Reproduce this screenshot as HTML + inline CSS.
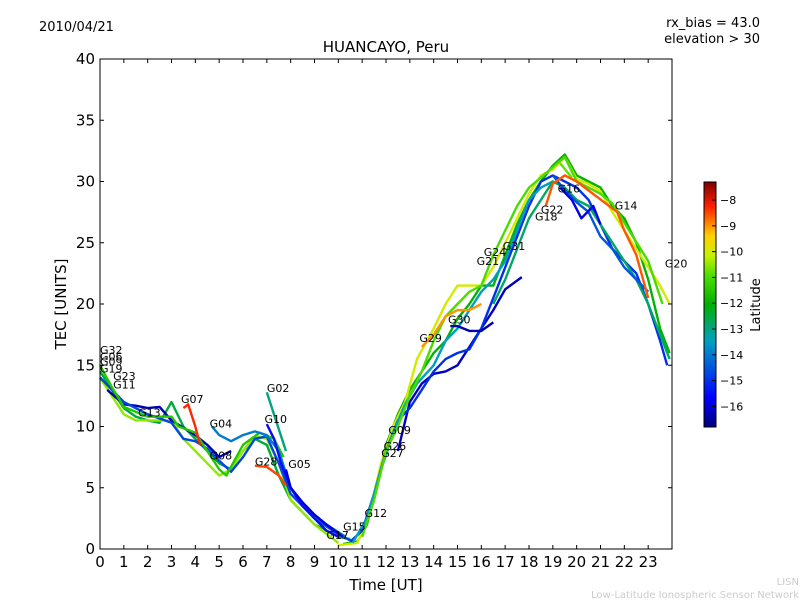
<!DOCTYPE html>
<html><head><meta charset="utf-8"><style>
body{margin:0;background:#fff;width:800px;height:600px;overflow:hidden}
svg text{font-family:"DejaVu Sans","Liberation Sans",sans-serif}
</style></head><body>
<svg id="c" width="800" height="600" xmlns="http://www.w3.org/2000/svg">
<text x="39" y="31" font-size="13">2010/04/21</text>
<text x="760" y="27" font-size="13" text-anchor="end">rx_bias = 43.0</text>
<text x="760" y="43" font-size="13" text-anchor="end">elevation &gt; 30</text>
<text x="386" y="52" font-size="15" text-anchor="middle">HUANCAYO, Peru</text>
<text x="386" y="590" font-size="15" text-anchor="middle">Time [UT]</text>
<text x="66" y="304" font-size="15" text-anchor="middle" transform="rotate(-90 66 304)">TEC [UNITS]</text>
<text x="799" y="585" font-size="10" fill="#ccc" text-anchor="end">LISN</text>
<text x="799" y="598" font-size="10" fill="#ccc" text-anchor="end">Low-Latitude Ionospheric Sensor Network</text>
<defs><linearGradient id="jet" x1="0" y1="1" x2="0" y2="0">
<stop offset="0" stop-color="#00007f"/><stop offset="0.12" stop-color="#0000ff"/><stop offset="0.35" stop-color="#00a0c0"/><stop offset="0.5" stop-color="#00b000"/><stop offset="0.62" stop-color="#50e000"/><stop offset="0.7" stop-color="#c8f000"/><stop offset="0.78" stop-color="#ffd000"/><stop offset="0.9" stop-color="#ff2000"/><stop offset="1" stop-color="#7f0000"/></linearGradient></defs>
<g id="plot"></g>
<g id="cb"></g>
</svg>
<script>
const xTicks=[0,1,2,3,4,5,6,7,8,9,10,11,12,13,14,15,16,17,18,19,20,21,22,23];
const yTicks=[0,5,10,15,20,25,30,35,40];
const cbTicks=[-8,-9,-10,-11,-12,-13,-14,-15,-16];
const trackLat=[-12.5,-10.5,-16.3,-14.7,-11.5,-14,-15.5,-13,-16,-8.5,-8.3,-12,-10,-16.2,-15,-13.5,-11,-9,-16.4,-12.8,-14.5,-10.8,-15.8,-8.6];
const trackPts=[
[[0,14.5],[0.5,13],[1,11.5],[1.5,10.8],[2,10.5],[2.5,10.3],[3,12],[3.5,10],[4,9],[4.5,8],[5,7],[5.5,6.5],[6,8],[6.5,9],[7,8.5],[7.5,6],[8,4],[8.5,3],[9,2],[9.5,1.5],[10,1],[10.5,0.8]],
[[0,14],[0.5,12.5],[1,11],[1.5,10.5],[2,10.5],[3,10.5],[3.5,9],[4,8],[4.5,7],[5,6],[5.5,6.5],[6,8],[6.5,9.2],[7,9],[7.5,7],[8,4],[9,2],[10,0.5]],
[[0.3,13],[1,11.8],[1.5,11.7],[2,11.5],[2.5,11.6],[3,10.5],[4,9.3],[4.5,8.5],[5,7.5],[5.5,8]],
[[0,14],[1,12],[2,11],[3,10.3],[3.5,9],[4,8.8],[4.5,8.2],[5,7.2],[5.5,6.3],[6,7.5],[6.5,9],[7,9.2],[7.5,7],[8,4.5],[9,2.5],[10,1.2],[10.5,0.7]],
[[0,15],[0.5,13.2],[1,11.6],[2,10.8],[3,10.8],[3.3,10],[4,9.5],[5,6.5],[5.3,6],[6,8.5],[6.7,9.5],[7.3,9],[7.7,7.5]],
[[4.7,10],[5,9.3],[5.5,8.8],[6,9.3],[6.5,9.6],[7,9.3],[7.5,8],[8,5],[8.5,3.5],[9.5,2],[10.3,1]],
[[7,10.2],[7.3,9],[7.6,7],[8,5],[8.5,3.5],[9,2.5],[9.5,1.5],[10,1]],
[[7,12.8],[7.8,8]],
[[7.8,6.5],[8,5],[8.5,3.8],[9,2.8],[9.5,2],[10.2,1]],
[[6.5,6.8],[7,6.7],[7.5,6],[7.8,5.2]],
[[3.5,11.5],[3.7,11.8],[4,10],[4.2,8.5]],
[[10.2,0.4],[10.8,0.6],[11.2,2],[11.6,5],[12,8.5],[12.5,11],[13,13],[13.5,14.5],[14,16],[14.5,17],[15,18.8],[15.5,20],[16,21.5],[16.5,21.5],[17,24],[17.5,26.5],[18,28.5],[18.5,30],[19,31.3],[19.5,32.2],[20,30.5],[20.5,30],[21,29.5],[21.5,28],[22,27],[22.5,25],[23,22],[23.5,18],[23.9,16]],
[[10,0.3],[10.8,0.5],[11.3,3],[11.8,7],[12.3,10],[12.8,12],[13.3,15.5],[14,18],[14.5,20],[15,21.5],[15.5,21.5],[16,21.5],[16.5,23],[17,25],[17.5,27],[18,29],[18.5,30.5],[19,31],[19.5,32],[20,30.2],[20.5,29.8],[21,29.2],[21.5,27.5],[22,26],[22.5,24.5],[23,23],[23.5,21.5],[23.9,20]],
[[12.5,8],[13,12],[13.5,13.5],[14,14.3],[14.5,14.5],[15,15],[15.5,16.5],[16,18],[16.5,19.5],[17,21.2],[17.7,22.2]],
[[10.5,0.6],[11,1.5],[11.5,4.5],[12,8],[12.5,10.5],[13,11.5],[13.5,13],[14,14.5],[14.5,15.5],[15,16],[15.5,16.3],[16,18],[16.5,20.5],[17,23],[17.5,25.5],[18,28],[18.5,30],[19,30.5],[19.5,30],[20,29.5],[20.5,28.5],[21,26.5],[21.5,24.5],[22,23.5],[22.5,22.5],[23,20],[23.5,17],[23.8,15]],
[[10.6,0.5],[11.2,2.5],[11.8,6.5],[12.3,9.5],[12.8,11.8],[13.3,13.5],[14,15],[14.5,17],[15,18],[15.5,19.5],[16,21],[16.5,22],[17,23.5],[17.5,26],[18,28.5],[18.5,29.5],[19,30]],
[[11,1],[11.5,4],[12,8],[12.5,10],[13,12.5],[13.5,14.5],[14,17],[14.5,19],[15,20],[15.5,21],[16,21.5],[16.5,24],[17,26],[17.5,28],[18,29.5],[19.5,32],[20,30],[21,29],[21.5,28.2],[22.2,26],[23,23.5],[23.6,20]],
[[13.5,16.5],[14,17.5],[14.5,19],[15,19.5],[15.5,19.5],[16,20]],
[[14.7,18.2],[15,18.2],[15.5,17.8],[16,17.8],[16.5,18.5]],
[[16.5,20],[17,22],[17.5,24.5],[18,27],[18.5,28.5],[19,30],[19.5,29.5],[20,28.5],[20.5,28],[21,26.5],[21.5,25],[22,23.5],[22.5,22],[23,20],[23.5,17.5],[23.9,15.5]],
[[19,30.5],[19.5,29.3],[20,28.3],[20.5,27.5],[21,25.5],[21.5,24.5],[22,23],[22.5,22],[23,21]],
[[19.3,31.5],[19.8,30.3]],
[[19.3,29.5],[19.8,28.5],[20.2,27],[20.7,28],[21,26.5]],
[[18.7,28],[19,29.8],[19.5,30.5],[20,30],[21.7,27.5],[22,26],[22.5,24],[23,20.5]]
];
const labelNames=["G32","G06","G09","G19","G23","G11","G13","G07","G04","G08","G02","G10","G28","G05","G17","G15","G12","G09","G26","G27","G29","G30","G21","G24","G31","G22","G18","G16","G14","G20"];
const labelT=[0,0,0,0,0.55,0.55,1.6,3.4,4.6,4.6,7,6.9,6.5,7.9,9.5,10.2,11.1,12.1,11.9,11.8,13.4,14.6,15.8,16.1,16.9,18.5,18.25,19.2,21.6,23.7];
const labelV=[15.9,15.4,15,14.4,13.8,13.1,10.8,11.9,9.9,7.3,12.8,10.3,6.8,6.6,0.8,1.5,2.6,9.4,8.1,7.5,16.9,18.4,23.2,23.9,24.4,27.4,26.8,29.1,27.7,23];
const X0=100,X1=672,Y0=549,Y1=59;
const xs=t=>X0+t*(X1-X0)/24, ys=v=>Y0-v*(Y0-Y1)/40;
const latMin=-16.8,latMax=-7.3;
const stops=[[0,[0,0,127]],[0.12,[0,0,255]],[0.35,[0,160,192]],[0.5,[0,176,0]],[0.62,[80,224,0]],[0.7,[200,240,0]],[0.78,[255,208,0]],[0.9,[255,32,0]],[1,[127,0,0]]];
function jet(l){const f=Math.max(0,Math.min(1,(l-latMin)/(latMax-latMin)));for(let i=1;i<stops.length;i++){if(f<=stops[i][0]){const a=stops[i-1],b=stops[i],u=(f-a[0])/(b[0]-a[0]);return 'rgb('+a[1].map((c,k)=>Math.round(c+(b[1][k]-c)*u)).join(',')+')';}}return 'rgb(127,0,0)';}
const NS="http://www.w3.org/2000/svg";
const plot=document.getElementById('plot'),cb=document.getElementById('cb');
function mk(tag,at,par){const e=document.createElementNS(NS,tag);for(const k in at)e.setAttribute(k,at[k]);par.appendChild(e);return e;}
trackPts.forEach((pts,i)=>{
 const p=mk('polyline',{points:pts.map(q=>xs(q[0]).toFixed(1)+','+ys(q[1]).toFixed(1)).join(' '),fill:'none',stroke:jet(trackLat[i]),'stroke-width':2.4,'stroke-linejoin':'round'},plot);
 
 
});
labelNames.forEach((n,i)=>{
 const t=mk('text',{x:xs(labelT[i]),y:ys(labelV[i]),'font-size':11},plot);t.textContent=n;
 
 
});
const fr=mk('rect',{x:X0,y:Y1,width:X1-X0,height:Y0-Y1,fill:'none',stroke:'#000','stroke-width':1},plot);


xTicks.forEach(t=>{const x=xs(t);mk('line',{x1:x,x2:x,y1:Y0,y2:Y0-4,stroke:'#000'},plot);mk('line',{x1:x,x2:x,y1:Y1,y2:Y1+4,stroke:'#000'},plot);
 const e=mk('text',{x:x,y:Y0+18,'font-size':15,'text-anchor':'middle'},plot);e.textContent=t;
 
 });
yTicks.forEach(v=>{const y=ys(v);mk('line',{x1:X0,x2:X0+4,y1:y,y2:y,stroke:'#000'},plot);mk('line',{x1:X1,x2:X1-4,y1:y,y2:y,stroke:'#000'},plot);
 const e=mk('text',{x:X0-5,y:y+5,'font-size':15,'text-anchor':'end'},plot);e.textContent=v;
 
 });
const CY0=427,CY1=182;const cy=l=>CY0-(l-latMin)*(CY0-CY1)/(latMax-latMin);
mk('rect',{x:704,y:CY1,width:12,height:CY0-CY1,fill:'url(#jet)',stroke:'#000','stroke-width':1},cb);
cbTicks.forEach(l=>{const y=cy(l);mk('line',{x1:712,x2:716,y1:y,y2:y,stroke:'#000'},cb);
 const e=mk('text',{x:720,y:y+4,'font-size':11},cb);e.textContent='\u2212'+(-l);
 
 });
const ct=mk('text',{x:760,y:305,'font-size':13,'text-anchor':'middle',transform:'rotate(-90 760 305)'},cb);ct.textContent='Latitude';


</script>
</body></html>
